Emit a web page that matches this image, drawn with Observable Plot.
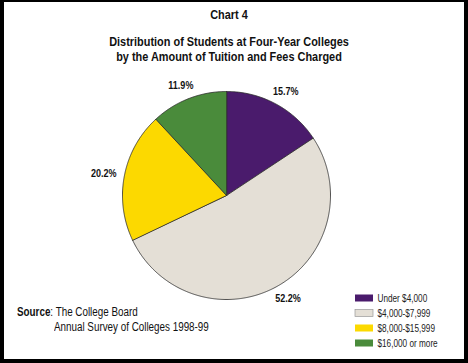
<!DOCTYPE html>
<html>
<head>
<meta charset="utf-8">
<script src="https://cdn.jsdelivr.net/npm/d3@7"></script>
<script src="https://cdn.jsdelivr.net/npm/@observablehq/plot@0.6"></script>
<style>
  html, body { margin: 0; padding: 0; background: #fff; }
  #frame { position: relative; width: 468px; height: 363px; background: #000; overflow: hidden; }
  #inner { position: absolute; left: 4px; top: 2px; width: 460px; height: 357px; background: #fff; }
  .nar { font-family: "Liberation Sans", Arial, Helvetica, sans-serif; color: #111; }
  .t { position: absolute; white-space: nowrap; }
  .c { transform: scaleX(0.84); transform-origin: 229px 0; }
  .l { transform: scaleX(0.82); transform-origin: 0 0; }
  #chart { position: absolute; left: 0; top: 0; }
</style>
</head>
<body>
<div id="frame">
  <div id="inner"></div>
  <div id="chart"></div>
  <div class="t nar c" style="left:0;width:458px;text-align:center;top:7px;font-weight:bold;font-size:13px;">Chart 4</div>
  <div class="t nar c" style="left:0;width:458px;text-align:center;top:34px;font-weight:bold;font-size:13px;line-height:15px;">Distribution of Students at Four-Year Colleges<br>by the Amount of Tuition and Fees Charged</div>
  <div class="t nar l" style="left:17px;top:305px;font-size:12px;"><b>Source</b>: The College Board</div>
  <div class="t nar l" style="left:54px;top:320px;font-size:12px;">Annual Survey of Colleges 1998-99</div>
</div>
<script>
// ---- data ----
const categories = ["Under $4,000", "$4,000-$7,999", "$8,000-$15,999", "$16,000 or more"];
const shares = [15.7, 52.2, 20.2, 11.9];
const labels = ["15.7%", "52.2%", "20.2%", "11.9%"];
const colors = ["#4a1b6c", "#e4dfd6", "#fcd900", "#4a8b3b"];

// ---- layout ----
const W = 468, H = 363;
const cx = 226, cy = 195, R = 104, labelRx = 125, labelRy = 118;

const arcs = d3.pie().sort(null).value(d => d)(shares);
const slicePts = [];
arcs.forEach((a, i) => {
  slicePts.push({cat: categories[i], x: cx, y: cy});
  const n = Math.max(8, Math.ceil((a.endAngle - a.startAngle) / 0.01));
  for (let k = 0; k <= n; k++) {
    const t = a.startAngle + (a.endAngle - a.startAngle) * k / n;
    slicePts.push({cat: categories[i], x: cx + R * Math.sin(t), y: cy - R * Math.cos(t)});
  }
});
const labelData = arcs.map((a, i) => {
  const m = (a.startAngle + a.endAngle) / 2;
  return {label: labels[i], x: cx + labelRx * Math.sin(m), y: cy - labelRy * Math.cos(m)};
});
const legendData = categories.map((c, i) => ({cat: c, i}));
const lx = 355, ly = 298, lstep = 15;

const font = '"Liberation Sans", Arial, Helvetica, sans-serif';

const plot = Plot.plot({
  width: W, height: H,
  margin: 0,
  x: {domain: [0, W], range: [0, W], axis: null},
  y: {domain: [0, H], range: [0, H], axis: null},
  color: {domain: categories, range: colors},
  style: {background: "transparent", fontFamily: font},
  marks: [
    Plot.line(slicePts, {x: "x", y: "y", z: "cat", fill: "cat", stroke: "#2a2a2a", strokeWidth: 0.8, curve: "linear-closed"}),
    Plot.text(labelData, {x: "x", y: "y", text: "label", fontSize: 11, fontWeight: "bold", fill: "#111"}),
    Plot.rect(legendData, {x1: () => lx, x2: () => lx + 18, y1: d => ly + d.i * lstep - 3.5, y2: d => ly + d.i * lstep + 3.5, fill: "cat", stroke: d => d.i === 1 ? "#999" : "none", strokeWidth: 0.7}),
    Plot.text(legendData, {x: () => lx + 22, y: d => ly + d.i * lstep, text: "cat", textAnchor: "start", fontSize: 10, fill: "#222"})
  ]
});
document.getElementById("chart").appendChild(plot);
// condensed lettering like the original typeface
d3.select(plot).selectAll("text").each(function() {
  const w = this.getComputedTextLength();
  if (w > 0) {
    this.setAttribute("textLength", (w * 0.82).toFixed(2));
    this.setAttribute("lengthAdjust", "spacingAndGlyphs");
  }
});
</script>
</body>
</html>
